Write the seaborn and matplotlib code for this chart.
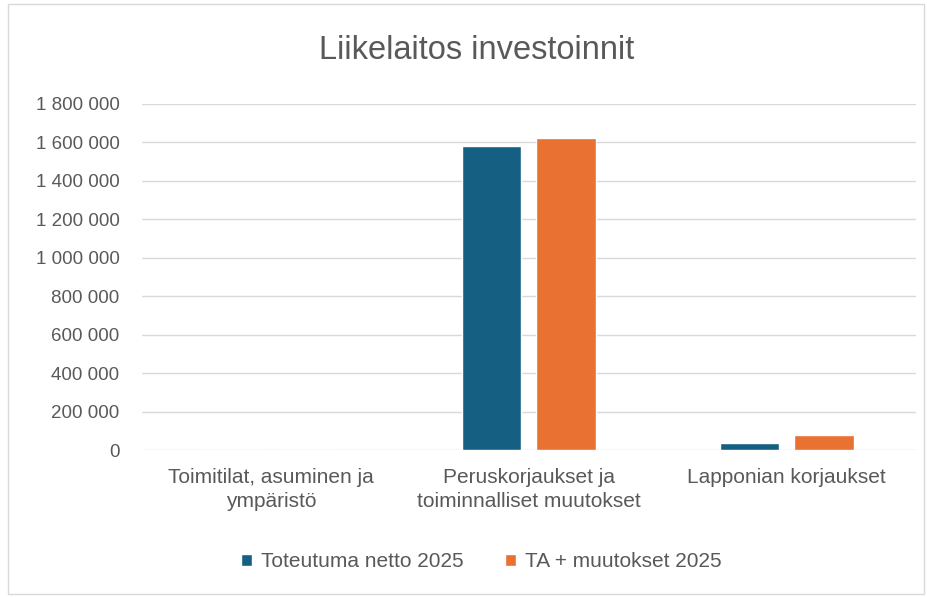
import matplotlib
matplotlib.use("Agg")
import matplotlib.pyplot as plt
import seaborn as sns
import pandas as pd
from matplotlib.ticker import FuncFormatter, MultipleLocator
from matplotlib.patches import Rectangle

categories = ["Toimitilat, asuminen ja\nympäristö",
              "Peruskorjaukset ja\ntoiminnalliset muutokset",
              "Lapponian korjaukset"]
series_names = ["Toteutuma netto 2025", "TA + muutokset 2025"]
toteutuma = [0, 1582000, 35000]
ta_muutokset = [0, 1622000, 78000]
colors = ["#156082", "#E97132"]

df = pd.DataFrame({
    "Kategoria": categories * 2,
    "Sarja": [series_names[0]] * 3 + [series_names[1]] * 3,
    "Arvo": toteutuma + ta_muutokset,
})

sns.set_theme(style="white")
plt.rcParams["font.family"] = ["Liberation Sans", "DejaVu Sans"]
text_color = "#595959"

fig = plt.figure(figsize=(9.27, 5.97), dpi=100)
ax = fig.add_axes([0.153, 0.246, 0.835, 0.580])

sns.barplot(data=df, x="Kategoria", y="Arvo", hue="Sarja", palette=colors,
            order=categories, hue_order=series_names, ax=ax,
            width=0.58, gap=0.2, saturation=1, legend=True)

ax.set_ylim(0, 1800000)
ax.yaxis.set_major_locator(MultipleLocator(200000))
ax.yaxis.set_major_formatter(FuncFormatter(lambda v, p: f"{v:,.0f}".replace(",", " ")))
ax.grid(axis="y", color="#D9D9D9", linewidth=1)
ax.set_axisbelow(True)
for s in ax.spines.values():
    s.set_visible(False)
ax.set_xlabel("")
ax.set_ylabel("")
ax.tick_params(axis="y", labelsize=13.5, labelcolor=text_color, length=0, pad=16)
ax.tick_params(axis="x", labelsize=15, labelcolor=text_color, length=0, pad=13)
for t in ax.get_xticklabels():
    t.set_linespacing(1.35)

fig.text(0.514, 0.916, "Liikelaitos investoinnit", fontsize=23.5, color=text_color,
         ha="center", va="center")

h, l = ax.get_legend_handles_labels()
ax.legend_.remove()
fig.legend(h, l, loc="center", bbox_to_anchor=(0.519, 0.059), ncol=2, frameon=False,
           fontsize=15, labelcolor=text_color, handlelength=0.55, handleheight=0.55,
           handletextpad=0.4, columnspacing=2.0)

fig.patches.append(Rectangle((0.009, 0.005), 0.988, 0.988, transform=fig.transFigure,
                             fill=False, edgecolor="#D9D9D9", linewidth=1))

fig.savefig("out.png", dpi=100, facecolor="white")
